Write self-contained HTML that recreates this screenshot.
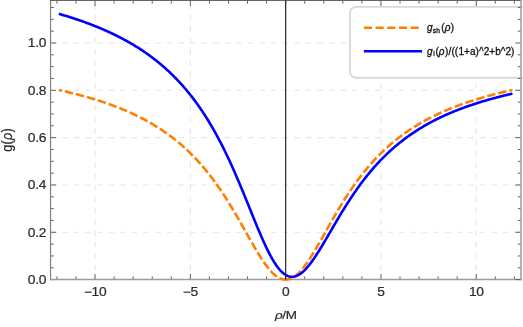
<!DOCTYPE html>
<html><head><meta charset="utf-8"><style>
html,body{margin:0;padding:0;background:#fff;}
svg{display:block;font-family:"Liberation Sans",sans-serif;will-change:transform;}
</style></head><body>
<svg width="523" height="327" viewBox="0 0 523 327">
<rect width="523" height="327" fill="#fff"/>
<g stroke="#e6e6e6" stroke-width="1.1" stroke-dasharray="5.7 5.9" fill="none">
<line x1="95.05" y1="0.45" x2="95.05" y2="279.6" stroke-dasharray="5.6 5.75" stroke-dashoffset="8.3"/>
<line x1="190.35" y1="0.45" x2="190.35" y2="279.6" stroke-dasharray="5.6 5.75" stroke-dashoffset="8.3"/>
<line x1="380.95" y1="0.45" x2="380.95" y2="279.6" stroke-dasharray="5.6 5.75" stroke-dashoffset="8.3"/>
<line x1="476.25" y1="0.45" x2="476.25" y2="279.6" stroke-dasharray="5.6 5.75" stroke-dashoffset="8.3"/>
<line x1="50.55" y1="232.28" x2="521.0" y2="232.28"/>
<line x1="50.55" y1="184.96" x2="521.0" y2="184.96"/>
<line x1="50.55" y1="137.64" x2="521.0" y2="137.64"/>
<line x1="50.55" y1="90.32" x2="521.0" y2="90.32"/>
<line x1="50.55" y1="43.00" x2="521.0" y2="43.00"/>
</g>
<g stroke="#626262" stroke-width="1" fill="none">
<line x1="56.93" y1="279.6" x2="56.93" y2="276.40"/><line x1="56.93" y1="0.45" x2="56.93" y2="3.65"/>
<line x1="75.99" y1="279.6" x2="75.99" y2="276.40"/><line x1="75.99" y1="0.45" x2="75.99" y2="3.65"/>
<line x1="95.05" y1="279.6" x2="95.05" y2="274.00"/><line x1="95.05" y1="0.45" x2="95.05" y2="6.05"/>
<line x1="114.11" y1="279.6" x2="114.11" y2="276.40"/><line x1="114.11" y1="0.45" x2="114.11" y2="3.65"/>
<line x1="133.17" y1="279.6" x2="133.17" y2="276.40"/><line x1="133.17" y1="0.45" x2="133.17" y2="3.65"/>
<line x1="152.23" y1="279.6" x2="152.23" y2="276.40"/><line x1="152.23" y1="0.45" x2="152.23" y2="3.65"/>
<line x1="171.29" y1="279.6" x2="171.29" y2="276.40"/><line x1="171.29" y1="0.45" x2="171.29" y2="3.65"/>
<line x1="190.35" y1="279.6" x2="190.35" y2="274.00"/><line x1="190.35" y1="0.45" x2="190.35" y2="6.05"/>
<line x1="209.41" y1="279.6" x2="209.41" y2="276.40"/><line x1="209.41" y1="0.45" x2="209.41" y2="3.65"/>
<line x1="228.47" y1="279.6" x2="228.47" y2="276.40"/><line x1="228.47" y1="0.45" x2="228.47" y2="3.65"/>
<line x1="247.53" y1="279.6" x2="247.53" y2="276.40"/><line x1="247.53" y1="0.45" x2="247.53" y2="3.65"/>
<line x1="266.59" y1="279.6" x2="266.59" y2="276.40"/><line x1="266.59" y1="0.45" x2="266.59" y2="3.65"/>
<line x1="285.65" y1="279.6" x2="285.65" y2="274.00"/><line x1="285.65" y1="0.45" x2="285.65" y2="6.05"/>
<line x1="304.71" y1="279.6" x2="304.71" y2="276.40"/><line x1="304.71" y1="0.45" x2="304.71" y2="3.65"/>
<line x1="323.77" y1="279.6" x2="323.77" y2="276.40"/><line x1="323.77" y1="0.45" x2="323.77" y2="3.65"/>
<line x1="342.83" y1="279.6" x2="342.83" y2="276.40"/><line x1="342.83" y1="0.45" x2="342.83" y2="3.65"/>
<line x1="361.89" y1="279.6" x2="361.89" y2="276.40"/><line x1="361.89" y1="0.45" x2="361.89" y2="3.65"/>
<line x1="380.95" y1="279.6" x2="380.95" y2="274.00"/><line x1="380.95" y1="0.45" x2="380.95" y2="6.05"/>
<line x1="400.01" y1="279.6" x2="400.01" y2="276.40"/><line x1="400.01" y1="0.45" x2="400.01" y2="3.65"/>
<line x1="419.07" y1="279.6" x2="419.07" y2="276.40"/><line x1="419.07" y1="0.45" x2="419.07" y2="3.65"/>
<line x1="438.13" y1="279.6" x2="438.13" y2="276.40"/><line x1="438.13" y1="0.45" x2="438.13" y2="3.65"/>
<line x1="457.19" y1="279.6" x2="457.19" y2="276.40"/><line x1="457.19" y1="0.45" x2="457.19" y2="3.65"/>
<line x1="476.25" y1="279.6" x2="476.25" y2="274.00"/><line x1="476.25" y1="0.45" x2="476.25" y2="6.05"/>
<line x1="495.31" y1="279.6" x2="495.31" y2="276.40"/><line x1="495.31" y1="0.45" x2="495.31" y2="3.65"/>
<line x1="514.37" y1="279.6" x2="514.37" y2="276.40"/><line x1="514.37" y1="0.45" x2="514.37" y2="3.65"/>
<line x1="50.55" y1="279.60" x2="56.15" y2="279.60"/>
<line x1="50.55" y1="267.77" x2="53.75" y2="267.77"/>
<line x1="50.55" y1="255.94" x2="53.75" y2="255.94"/>
<line x1="50.55" y1="244.11" x2="53.75" y2="244.11"/>
<line x1="50.55" y1="232.28" x2="56.15" y2="232.28"/>
<line x1="50.55" y1="220.45" x2="53.75" y2="220.45"/>
<line x1="50.55" y1="208.62" x2="53.75" y2="208.62"/>
<line x1="50.55" y1="196.79" x2="53.75" y2="196.79"/>
<line x1="50.55" y1="184.96" x2="56.15" y2="184.96"/>
<line x1="50.55" y1="173.13" x2="53.75" y2="173.13"/>
<line x1="50.55" y1="161.30" x2="53.75" y2="161.30"/>
<line x1="50.55" y1="149.47" x2="53.75" y2="149.47"/>
<line x1="50.55" y1="137.64" x2="56.15" y2="137.64"/>
<line x1="50.55" y1="125.81" x2="53.75" y2="125.81"/>
<line x1="50.55" y1="113.98" x2="53.75" y2="113.98"/>
<line x1="50.55" y1="102.15" x2="53.75" y2="102.15"/>
<line x1="50.55" y1="90.32" x2="56.15" y2="90.32"/>
<line x1="50.55" y1="78.49" x2="53.75" y2="78.49"/>
<line x1="50.55" y1="66.66" x2="53.75" y2="66.66"/>
<line x1="50.55" y1="54.83" x2="53.75" y2="54.83"/>
<line x1="50.55" y1="43.00" x2="56.15" y2="43.00"/>
<line x1="50.55" y1="31.17" x2="53.75" y2="31.17"/>
<line x1="50.55" y1="19.34" x2="53.75" y2="19.34"/>
<line x1="50.55" y1="7.51" x2="53.75" y2="7.51"/>
</g>
<line x1="50.55" y1="0" x2="50.55" y2="280.20000000000005" stroke="#858585" stroke-width="1.25"/>
<line x1="49.949999999999996" y1="0.45" x2="521.8" y2="0.45" stroke="#5c5c5c" stroke-width="1"/>
<line x1="49.949999999999996" y1="279.6" x2="521.8" y2="279.6" stroke="#9c9c9c" stroke-width="1.5"/>
<g fill="none" stroke-linejoin="round">
<path d="M285.65,279.60 L285.14,279.59 L284.63,279.56 L284.11,279.50 L283.60,279.43 L283.09,279.33 L282.58,279.22 L282.07,279.08 L281.55,278.92 L281.04,278.74 L280.53,278.54 L280.01,278.32 L279.50,278.07 L278.99,277.81 L278.47,277.53 L277.96,277.22 L277.44,276.90 L276.93,276.56 L276.41,276.19 L275.90,275.81 L275.38,275.41 L274.87,274.99 L274.35,274.55 L273.83,274.09 L273.31,273.61 L272.79,273.12 L272.27,272.60 L271.75,272.07 L271.23,271.52 L270.71,270.96 L270.19,270.38 L269.67,269.78 L269.14,269.16 L268.62,268.53 L268.10,267.88 L267.57,267.22 L267.04,266.54 L266.52,265.85 L265.99,265.14 L265.46,264.42 L264.93,263.68 L264.40,262.93 L263.87,262.17 L263.34,261.40 L262.80,260.61 L262.27,259.81 L261.73,259.00 L261.20,258.17 L260.66,257.34 L260.12,256.49 L259.58,255.64 L259.04,254.77 L258.50,253.89 L257.96,253.01 L257.41,252.11 L256.87,251.21 L256.32,250.30 L255.78,249.37 L255.23,248.45 L254.68,247.51 L254.13,246.57 L253.57,245.61 L253.02,244.66 L252.46,243.69 L251.91,242.72 L251.35,241.75 L250.79,240.77 L250.23,239.78 L249.67,238.79 L249.11,237.79 L248.54,236.79 L247.97,235.79 L247.41,234.78 L246.84,233.77 L246.27,232.76 L245.69,231.74 L245.12,230.72 L244.54,229.70 L243.97,228.68 L243.39,227.65 L242.81,226.62 L242.23,225.60 L241.64,224.57 L241.06,223.54 L240.47,222.51 L239.88,221.47 L239.29,220.44 L238.70,219.41 L238.11,218.38 L237.51,217.35 L236.91,216.32 L236.32,215.29 L235.71,214.26 L235.11,213.23 L234.51,212.20 L233.90,211.18 L233.29,210.16 L232.68,209.14 L232.07,208.12 L231.46,207.10 L230.84,206.08 L230.22,205.07 L229.61,204.06 L228.98,203.06 L228.36,202.05 L227.74,201.05 L227.11,200.05 L226.48,199.06 L225.85,198.07 L225.21,197.08 L224.58,196.10 L223.94,195.11 L223.30,194.14 L222.66,193.17 L222.02,192.20 L221.37,191.23 L220.72,190.27 L220.07,189.31 L219.42,188.36 L218.77,187.41 L218.11,186.47 L217.45,185.53 L216.79,184.60 L216.13,183.67 L215.46,182.74 L214.80,181.82 L214.13,180.91 L213.46,180.00 L212.78,179.09 L212.11,178.19 L211.43,177.29 L210.75,176.40 L210.07,175.52 L209.38,174.64 L208.69,173.76 L208.00,172.89 L207.31,172.02 L206.62,171.16 L205.92,170.31 L205.22,169.46 L204.52,168.62 L203.82,167.78 L203.11,166.94 L202.40,166.11 L201.69,165.29 L200.98,164.47 L200.26,163.66 L199.54,162.85 L198.82,162.05 L198.10,161.25 L197.38,160.46 L196.65,159.68 L195.92,158.90 L195.18,158.12 L194.45,157.35 L193.71,156.59 L192.97,155.83 L192.23,155.07 L191.48,154.32 L190.74,153.58 L189.99,152.84 L189.23,152.11 L188.48,151.38 L187.72,150.66 L186.96,149.94 L186.20,149.23 L185.43,148.52 L184.67,147.82 L183.90,147.12 L183.12,146.43 L182.35,145.75 L181.57,145.07 L180.79,144.39 L180.01,143.72 L179.22,143.05 L178.43,142.39 L177.64,141.73 L176.85,141.08 L176.05,140.44 L175.25,139.80 L174.45,139.16 L173.65,138.53 L172.84,137.90 L172.03,137.28 L171.22,136.66 L170.40,136.05 L169.58,135.44 L168.76,134.84 L167.94,134.24 L167.12,133.64 L166.29,133.05 L165.46,132.47 L164.62,131.89 L163.79,131.31 L162.95,130.74 L162.10,130.17 L161.26,129.61 L160.41,129.05 L159.56,128.50 L158.71,127.95 L157.85,127.41 L157.00,126.87 L156.13,126.33 L155.27,125.80 L154.40,125.27 L153.53,124.74 L152.66,124.22 L151.79,123.71 L150.91,123.20 L150.03,122.69 L149.15,122.19 L148.26,121.69 L147.37,121.19 L146.48,120.70 L145.58,120.21 L144.69,119.73 L143.79,119.25 L142.88,118.77 L141.98,118.30 L141.07,117.83 L140.16,117.36 L139.24,116.90 L138.32,116.44 L137.40,115.99 L136.48,115.54 L135.56,115.09 L134.63,114.65 L133.70,114.20 L132.76,113.77 L131.82,113.33 L130.88,112.90 L129.94,112.48 L128.99,112.05 L128.04,111.63 L127.09,111.22 L126.14,110.80 L125.18,110.39 L124.22,109.99 L123.26,109.58 L122.29,109.18 L121.32,108.79 L120.35,108.39 L119.37,108.00 L118.40,107.61 L117.41,107.23 L116.43,106.85 L115.44,106.47 L114.45,106.09 L113.46,105.72 L112.47,105.35 L111.47,104.98 L110.47,104.62 L109.46,104.25 L108.45,103.89 L107.44,103.54 L106.43,103.19 L105.41,102.83 L104.39,102.49 L103.37,102.14 L102.35,101.80 L101.32,101.46 L100.29,101.12 L99.25,100.79 L98.22,100.46 L97.17,100.13 L96.13,99.80 L95.09,99.47 L94.04,99.15 L92.98,98.83 L91.93,98.52 L90.87,98.20 L89.81,97.89 L88.74,97.58 L87.68,97.27 L86.61,96.97 L85.53,96.66 L84.46,96.36 L83.38,96.06 L82.30,95.77 L81.21,95.47 L80.12,95.18 L79.03,94.89 L77.94,94.61 L76.84,94.32 L75.74,94.04 L74.63,93.76 L73.53,93.48 L72.42,93.20 L71.31,92.93 L70.19,92.65 L69.07,92.38 L67.95,92.12 L66.82,91.85 L65.70,91.58 L64.56,91.32 L63.43,91.06 L62.29,90.80 L61.15,90.55 L60.01,90.29 L58.86,90.04" stroke="#ff7f00" stroke-width="2.6" stroke-dasharray="8.4 2.99" stroke-dashoffset="2.0"/>
<path d="M285.65,279.60 L286.16,279.59 L286.67,279.56 L287.19,279.50 L287.70,279.43 L288.21,279.33 L288.72,279.22 L289.23,279.08 L289.75,278.92 L290.26,278.74 L290.77,278.54 L291.29,278.32 L291.80,278.07 L292.31,277.81 L292.83,277.53 L293.34,277.22 L293.86,276.90 L294.37,276.56 L294.89,276.19 L295.40,275.81 L295.92,275.41 L296.43,274.99 L296.95,274.55 L297.47,274.09 L297.99,273.61 L298.51,273.12 L299.03,272.60 L299.55,272.07 L300.07,271.52 L300.59,270.96 L301.11,270.38 L301.63,269.78 L302.16,269.16 L302.68,268.53 L303.20,267.88 L303.73,267.22 L304.26,266.54 L304.78,265.85 L305.31,265.14 L305.84,264.42 L306.37,263.68 L306.90,262.93 L307.43,262.17 L307.96,261.40 L308.50,260.61 L309.03,259.81 L309.57,259.00 L310.10,258.17 L310.64,257.34 L311.18,256.49 L311.72,255.64 L312.26,254.77 L312.80,253.89 L313.34,253.01 L313.89,252.11 L314.43,251.21 L314.98,250.30 L315.52,249.37 L316.07,248.45 L316.62,247.51 L317.17,246.57 L317.73,245.61 L318.28,244.66 L318.84,243.69 L319.39,242.72 L319.95,241.75 L320.51,240.77 L321.07,239.78 L321.63,238.79 L322.19,237.79 L322.76,236.79 L323.33,235.79 L323.89,234.78 L324.46,233.77 L325.03,232.76 L325.61,231.74 L326.18,230.72 L326.76,229.70 L327.33,228.68 L327.91,227.65 L328.49,226.62 L329.07,225.60 L329.66,224.57 L330.24,223.54 L330.83,222.51 L331.42,221.47 L332.01,220.44 L332.60,219.41 L333.19,218.38 L333.79,217.35 L334.39,216.32 L334.98,215.29 L335.59,214.26 L336.19,213.23 L336.79,212.20 L337.40,211.18 L338.01,210.16 L338.62,209.14 L339.23,208.12 L339.84,207.10 L340.46,206.08 L341.08,205.07 L341.69,204.06 L342.32,203.06 L342.94,202.05 L343.56,201.05 L344.19,200.05 L344.82,199.06 L345.45,198.07 L346.09,197.08 L346.72,196.10 L347.36,195.11 L348.00,194.14 L348.64,193.17 L349.28,192.20 L349.93,191.23 L350.58,190.27 L351.23,189.31 L351.88,188.36 L352.53,187.41 L353.19,186.47 L353.85,185.53 L354.51,184.60 L355.17,183.67 L355.84,182.74 L356.50,181.82 L357.17,180.91 L357.84,180.00 L358.52,179.09 L359.19,178.19 L359.87,177.29 L360.55,176.40 L361.23,175.52 L361.92,174.64 L362.61,173.76 L363.30,172.89 L363.99,172.02 L364.68,171.16 L365.38,170.31 L366.08,169.46 L366.78,168.62 L367.48,167.78 L368.19,166.94 L368.90,166.11 L369.61,165.29 L370.32,164.47 L371.04,163.66 L371.76,162.85 L372.48,162.05 L373.20,161.25 L373.92,160.46 L374.65,159.68 L375.38,158.90 L376.12,158.12 L376.85,157.35 L377.59,156.59 L378.33,155.83 L379.07,155.07 L379.82,154.32 L380.56,153.58 L381.31,152.84 L382.07,152.11 L382.82,151.38 L383.58,150.66 L384.34,149.94 L385.10,149.23 L385.87,148.52 L386.63,147.82 L387.40,147.12 L388.18,146.43 L388.95,145.75 L389.73,145.07 L390.51,144.39 L391.29,143.72 L392.08,143.05 L392.87,142.39 L393.66,141.73 L394.45,141.08 L395.25,140.44 L396.05,139.80 L396.85,139.16 L397.65,138.53 L398.46,137.90 L399.27,137.28 L400.08,136.66 L400.90,136.05 L401.72,135.44 L402.54,134.84 L403.36,134.24 L404.18,133.64 L405.01,133.05 L405.84,132.47 L406.68,131.89 L407.51,131.31 L408.35,130.74 L409.20,130.17 L410.04,129.61 L410.89,129.05 L411.74,128.50 L412.59,127.95 L413.45,127.41 L414.30,126.87 L415.17,126.33 L416.03,125.80 L416.90,125.27 L417.77,124.74 L418.64,124.22 L419.51,123.71 L420.39,123.20 L421.27,122.69 L422.15,122.19 L423.04,121.69 L423.93,121.19 L424.82,120.70 L425.72,120.21 L426.61,119.73 L427.51,119.25 L428.42,118.77 L429.32,118.30 L430.23,117.83 L431.14,117.36 L432.06,116.90 L432.98,116.44 L433.90,115.99 L434.82,115.54 L435.74,115.09 L436.67,114.65 L437.60,114.20 L438.54,113.77 L439.48,113.33 L440.42,112.90 L441.36,112.48 L442.31,112.05 L443.26,111.63 L444.21,111.22 L445.16,110.80 L446.12,110.39 L447.08,109.99 L448.04,109.58 L449.01,109.18 L449.98,108.79 L450.95,108.39 L451.93,108.00 L452.90,107.61 L453.89,107.23 L454.87,106.85 L455.86,106.47 L456.85,106.09 L457.84,105.72 L458.83,105.35 L459.83,104.98 L460.83,104.62 L461.84,104.25 L462.85,103.89 L463.86,103.54 L464.87,103.19 L465.89,102.83 L466.91,102.49 L467.93,102.14 L468.95,101.80 L469.98,101.46 L471.01,101.12 L472.05,100.79 L473.08,100.46 L474.13,100.13 L475.17,99.80 L476.21,99.47 L477.26,99.15 L478.32,98.83 L479.37,98.52 L480.43,98.20 L481.49,97.89 L482.56,97.58 L483.62,97.27 L484.69,96.97 L485.77,96.66 L486.84,96.36 L487.92,96.06 L489.00,95.77 L490.09,95.47 L491.18,95.18 L492.27,94.89 L493.36,94.61 L494.46,94.32 L495.56,94.04 L496.67,93.76 L497.77,93.48 L498.88,93.20 L499.99,92.93 L501.11,92.65 L502.23,92.38 L503.35,92.12 L504.48,91.85 L505.60,91.58 L506.74,91.32 L507.87,91.06 L509.01,90.80 L510.15,90.55 L511.29,90.29 L512.44,90.04" stroke="#ff7f00" stroke-width="2.6" stroke-dasharray="8.4 2.99" stroke-dashoffset="2.0"/>
<path d="M58.86,13.85 L59.62,14.06 L60.38,14.28 L61.13,14.50 L61.89,14.72 L62.65,14.95 L63.41,15.17 L64.16,15.40 L64.92,15.63 L65.68,15.85 L66.43,16.09 L67.19,16.32 L67.95,16.55 L68.71,16.79 L69.46,17.02 L70.22,17.26 L70.98,17.50 L71.74,17.74 L72.49,17.99 L73.25,18.23 L74.01,18.48 L74.76,18.73 L75.52,18.98 L76.28,19.23 L77.04,19.48 L77.79,19.74 L78.55,20.00 L79.31,20.26 L80.06,20.52 L80.82,20.78 L81.58,21.04 L82.34,21.31 L83.09,21.58 L83.85,21.85 L84.61,22.12 L85.37,22.39 L86.12,22.67 L86.88,22.95 L87.64,23.23 L88.39,23.51 L89.15,23.80 L89.91,24.08 L90.67,24.37 L91.42,24.66 L92.18,24.95 L92.94,25.25 L93.69,25.54 L94.45,25.84 L95.21,26.15 L95.97,26.45 L96.72,26.75 L97.48,27.06 L98.24,27.37 L99.00,27.69 L99.75,28.00 L100.51,28.32 L101.27,28.64 L102.02,28.96 L102.78,29.29 L103.54,29.61 L104.30,29.94 L105.05,30.28 L105.81,30.61 L106.57,30.95 L107.32,31.29 L108.08,31.63 L108.84,31.98 L109.60,32.33 L110.35,32.68 L111.11,33.03 L111.87,33.39 L112.63,33.75 L113.38,34.11 L114.14,34.48 L114.90,34.85 L115.65,35.22 L116.41,35.60 L117.17,35.97 L117.93,36.35 L118.68,36.74 L119.44,37.12 L120.20,37.52 L120.95,37.91 L121.71,38.31 L122.47,38.71 L123.23,39.11 L123.98,39.52 L124.74,39.93 L125.50,40.34 L126.26,40.76 L127.01,41.18 L127.77,41.60 L128.53,42.03 L129.28,42.46 L130.04,42.90 L130.80,43.34 L131.56,43.78 L132.31,44.23 L133.07,44.68 L133.83,45.13 L134.58,45.59 L135.34,46.06 L136.10,46.52 L136.86,47.00 L137.61,47.47 L138.37,47.95 L139.13,48.43 L139.89,48.92 L140.64,49.42 L141.40,49.91 L142.16,50.41 L142.91,50.92 L143.67,51.43 L144.43,51.95 L145.19,52.47 L145.94,52.99 L146.70,53.52 L147.46,54.06 L148.21,54.60 L148.97,55.14 L149.73,55.69 L150.49,56.25 L151.24,56.81 L152.00,57.38 L152.76,57.95 L153.52,58.52 L154.27,59.11 L155.03,59.69 L155.79,60.29 L156.54,60.89 L157.30,61.49 L158.06,62.10 L158.82,62.72 L159.57,63.34 L160.33,63.97 L161.09,64.61 L161.84,65.25 L162.60,65.90 L163.36,66.55 L164.12,67.22 L164.87,67.88 L165.63,68.56 L166.39,69.24 L167.15,69.93 L167.90,70.62 L168.66,71.32 L169.42,72.03 L170.17,72.75 L170.93,73.47 L171.69,74.21 L172.45,74.94 L173.20,75.69 L173.96,76.45 L174.72,77.21 L175.47,77.98 L176.23,78.76 L176.99,79.54 L177.75,80.34 L178.50,81.14 L179.26,81.95 L180.02,82.77 L180.78,83.60 L181.53,84.44 L182.29,85.29 L183.05,86.14 L183.80,87.01 L184.56,87.88 L185.32,88.76 L186.08,89.66 L186.83,90.56 L187.59,91.47 L188.35,92.39 L189.10,93.33 L189.86,94.27 L190.62,95.22 L191.38,96.18 L192.13,97.16 L192.89,98.14 L193.65,99.14 L194.41,100.14 L195.16,101.16 L195.92,102.19 L196.68,103.23 L197.43,104.28 L198.19,105.34 L198.95,106.42 L199.71,107.50 L200.46,108.60 L201.22,109.71 L201.98,110.83 L202.73,111.97 L203.49,113.11 L204.25,114.27 L205.01,115.45 L205.76,116.63 L206.52,117.83 L207.28,119.04 L208.03,120.27 L208.79,121.50 L209.55,122.76 L210.31,124.02 L211.06,125.30 L211.82,126.59 L212.58,127.90 L213.34,129.22 L214.09,130.55 L214.85,131.90 L215.61,133.26 L216.36,134.64 L217.12,136.03 L217.88,137.44 L218.64,138.86 L219.39,140.29 L220.15,141.74 L220.91,143.20 L221.66,144.68 L222.42,146.18 L223.18,147.68 L223.94,149.20 L224.69,150.74 L225.45,152.29 L226.21,153.86 L226.97,155.44 L227.72,157.03 L228.48,158.64 L229.24,160.26 L229.99,161.90 L230.75,163.55 L231.51,165.21 L232.27,166.89 L233.02,168.58 L233.78,170.29 L234.54,172.00 L235.29,173.73 L236.05,175.47 L236.81,177.22 L237.57,178.99 L238.32,180.76 L239.08,182.55 L239.84,184.34 L240.60,186.15 L241.35,187.96 L242.11,189.79 L242.87,191.62 L243.62,193.46 L244.38,195.30 L245.14,197.16 L245.90,199.01 L246.65,200.87 L247.41,202.74 L248.17,204.61 L248.92,206.48 L249.68,208.35 L250.44,210.22 L251.20,212.09 L251.95,213.96 L252.71,215.83 L253.47,217.69 L254.23,219.55 L254.98,221.40 L255.74,223.25 L256.50,225.08 L257.25,226.91 L258.01,228.72 L258.77,230.52 L259.53,232.31 L260.28,234.08 L261.04,235.84 L261.80,237.57 L262.55,239.29 L263.31,240.99 L264.07,242.66 L264.83,244.31 L265.58,245.93 L266.34,247.53 L267.10,249.10 L267.86,250.63 L268.61,252.14 L269.37,253.61 L270.13,255.05 L270.88,256.46 L271.64,257.82 L272.40,259.15 L273.16,260.43 L273.91,261.68 L274.67,262.88 L275.43,264.04 L276.18,265.15 L276.94,266.22 L277.70,267.24 L278.46,268.21 L279.21,269.14 L279.97,270.01 L280.73,270.83 L281.49,271.61 L282.24,272.33 L283.00,272.99 L283.76,273.61 L284.51,274.17 L285.27,274.67 L286.03,275.13 L286.79,275.53 L287.54,275.87 L288.30,276.16 L289.06,276.40 L289.81,276.58 L290.57,276.71 L291.33,276.79 L292.09,276.81 L292.84,276.78 L293.60,276.70 L294.36,276.56 L295.12,276.38 L295.87,276.15 L296.63,275.87 L297.39,275.54 L298.14,275.16 L298.90,274.74 L299.66,274.27 L300.42,273.76 L301.17,273.20 L301.93,272.61 L302.69,271.97 L303.44,271.29 L304.20,270.58 L304.96,269.83 L305.72,269.04 L306.47,268.22 L307.23,267.36 L307.99,266.48 L308.75,265.56 L309.50,264.61 L310.26,263.64 L311.02,262.64 L311.77,261.61 L312.53,260.56 L313.29,259.49 L314.05,258.39 L314.80,257.28 L315.56,256.15 L316.32,254.99 L317.07,253.83 L317.83,252.64 L318.59,251.44 L319.35,250.23 L320.10,249.01 L320.86,247.77 L321.62,246.53 L322.38,245.27 L323.13,244.01 L323.89,242.74 L324.65,241.46 L325.40,240.18 L326.16,238.89 L326.92,237.60 L327.68,236.31 L328.43,235.01 L329.19,233.71 L329.95,232.41 L330.70,231.11 L331.46,229.81 L332.22,228.51 L332.98,227.22 L333.73,225.92 L334.49,224.63 L335.25,223.34 L336.01,222.06 L336.76,220.77 L337.52,219.50 L338.28,218.22 L339.03,216.96 L339.79,215.70 L340.55,214.44 L341.31,213.19 L342.06,211.95 L342.82,210.71 L343.58,209.48 L344.33,208.26 L345.09,207.05 L345.85,205.84 L346.61,204.65 L347.36,203.46 L348.12,202.27 L348.88,201.10 L349.64,199.94 L350.39,198.78 L351.15,197.63 L351.91,196.50 L352.66,195.37 L353.42,194.25 L354.18,193.14 L354.94,192.04 L355.69,190.95 L356.45,189.86 L357.21,188.79 L357.96,187.73 L358.72,186.68 L359.48,185.63 L360.24,184.60 L360.99,183.57 L361.75,182.56 L362.51,181.55 L363.27,180.55 L364.02,179.57 L364.78,178.59 L365.54,177.62 L366.29,176.66 L367.05,175.71 L367.81,174.77 L368.57,173.84 L369.32,172.92 L370.08,172.00 L370.84,171.10 L371.59,170.21 L372.35,169.32 L373.11,168.44 L373.87,167.58 L374.62,166.72 L375.38,165.87 L376.14,165.02 L376.89,164.19 L377.65,163.37 L378.41,162.55 L379.17,161.74 L379.92,160.94 L380.68,160.15 L381.44,159.37 L382.20,158.59 L382.95,157.83 L383.71,157.07 L384.47,156.32 L385.22,155.57 L385.98,154.84 L386.74,154.11 L387.50,153.39 L388.25,152.67 L389.01,151.97 L389.77,151.27 L390.52,150.58 L391.28,149.89 L392.04,149.22 L392.80,148.55 L393.55,147.88 L394.31,147.23 L395.07,146.58 L395.83,145.93 L396.58,145.30 L397.34,144.67 L398.10,144.04 L398.85,143.42 L399.61,142.81 L400.37,142.21 L401.13,141.61 L401.88,141.02 L402.64,140.43 L403.40,139.85 L404.15,139.28 L404.91,138.71 L405.67,138.14 L406.43,137.59 L407.18,137.04 L407.94,136.49 L408.70,135.95 L409.46,135.41 L410.21,134.88 L410.97,134.36 L411.73,133.84 L412.48,133.32 L413.24,132.81 L414.00,132.31 L414.76,131.81 L415.51,131.32 L416.27,130.83 L417.03,130.34 L417.78,129.86 L418.54,129.39 L419.30,128.92 L420.06,128.45 L420.81,127.99 L421.57,127.53 L422.33,127.08 L423.09,126.63 L423.84,126.18 L424.60,125.74 L425.36,125.31 L426.11,124.88 L426.87,124.45 L427.63,124.02 L428.39,123.60 L429.14,123.19 L429.90,122.78 L430.66,122.37 L431.41,121.96 L432.17,121.56 L432.93,121.17 L433.69,120.77 L434.44,120.38 L435.20,120.00 L435.96,119.62 L436.72,119.24 L437.47,118.86 L438.23,118.49 L438.99,118.12 L439.74,117.76 L440.50,117.39 L441.26,117.03 L442.02,116.68 L442.77,116.33 L443.53,115.98 L444.29,115.63 L445.04,115.29 L445.80,114.95 L446.56,114.61 L447.32,114.28 L448.07,113.94 L448.83,113.62 L449.59,113.29 L450.35,112.97 L451.10,112.65 L451.86,112.33 L452.62,112.01 L453.37,111.70 L454.13,111.39 L454.89,111.09 L455.65,110.78 L456.40,110.48 L457.16,110.18 L457.92,109.89 L458.67,109.59 L459.43,109.30 L460.19,109.01 L460.95,108.73 L461.70,108.44 L462.46,108.16 L463.22,107.88 L463.98,107.60 L464.73,107.33 L465.49,107.05 L466.25,106.78 L467.00,106.52 L467.76,106.25 L468.52,105.99 L469.28,105.72 L470.03,105.46 L470.79,105.21 L471.55,104.95 L472.30,104.70 L473.06,104.44 L473.82,104.19 L474.58,103.95 L475.33,103.70 L476.09,103.46 L476.85,103.21 L477.61,102.97 L478.36,102.74 L479.12,102.50 L479.88,102.27 L480.63,102.03 L481.39,101.80 L482.15,101.57 L482.91,101.34 L483.66,101.12 L484.42,100.89 L485.18,100.67 L485.93,100.45 L486.69,100.23 L487.45,100.01 L488.21,99.80 L488.96,99.58 L489.72,99.37 L490.48,99.16 L491.24,98.95 L491.99,98.74 L492.75,98.54 L493.51,98.33 L494.26,98.13 L495.02,97.93 L495.78,97.73 L496.54,97.53 L497.29,97.33 L498.05,97.13 L498.81,96.94 L499.56,96.74 L500.32,96.55 L501.08,96.36 L501.84,96.17 L502.59,95.98 L503.35,95.80 L504.11,95.61 L504.87,95.43 L505.62,95.24 L506.38,95.06 L507.14,94.88 L507.89,94.70 L508.65,94.53 L509.41,94.35 L510.17,94.17 L510.92,94.00 L511.68,93.83 L512.44,93.65" stroke="#0000ff" stroke-width="2.6"/>
</g>
<line x1="285.65" y1="0.45" x2="285.65" y2="279.6" stroke="#262626" stroke-width="1.2"/>
<rect x="350.0" y="6.9" width="190" height="70.9" rx="6.2" ry="6.2" fill="#fff" stroke="#d9d9d9" stroke-width="1.9"/>
<line x1="363.9" y1="27.8" x2="418.8" y2="27.8" stroke="#ff7f00" stroke-width="2.6" stroke-dasharray="8.1 3.6"/>
<line x1="363.9" y1="51.2" x2="422.1" y2="51.2" stroke="#0000ff" stroke-width="2.6"/>
<g fill="#111" stroke="#111" stroke-width="0.3" font-size="10" letter-spacing="0.03">
<text transform="translate(427.0,31.1) scale(1.002,1)"><tspan font-style="italic">g</tspan><tspan font-size="6.6" dy="1.7" dx="0.25">sh</tspan><tspan dy="-1.7" dx="1.4">(</tspan><tspan font-style="italic">ρ</tspan><tspan dx="0.2">)</tspan></text>
<text transform="translate(427.1,54.6) scale(1.002,1)"><tspan font-style="italic">g</tspan><tspan font-size="6.6" dy="1.7" dx="0.45">l</tspan><tspan dy="-1.7" dx="0.8">(</tspan><tspan font-style="italic">ρ</tspan><tspan dx="0.3">)</tspan><tspan dx="0.3">/((</tspan><tspan dx="0.4">1+a)^2+b^2)</tspan></text>
</g>
<g stroke="#626262" stroke-width="1" fill="none">
<line x1="521.0" y1="279.60" x2="515.40" y2="279.60"/>
<line x1="521.0" y1="267.77" x2="517.80" y2="267.77"/>
<line x1="521.0" y1="255.94" x2="517.80" y2="255.94"/>
<line x1="521.0" y1="244.11" x2="517.80" y2="244.11"/>
<line x1="521.0" y1="232.28" x2="515.40" y2="232.28"/>
<line x1="521.0" y1="220.45" x2="517.80" y2="220.45"/>
<line x1="521.0" y1="208.62" x2="517.80" y2="208.62"/>
<line x1="521.0" y1="196.79" x2="517.80" y2="196.79"/>
<line x1="521.0" y1="184.96" x2="515.40" y2="184.96"/>
<line x1="521.0" y1="173.13" x2="517.80" y2="173.13"/>
<line x1="521.0" y1="161.30" x2="517.80" y2="161.30"/>
<line x1="521.0" y1="149.47" x2="517.80" y2="149.47"/>
<line x1="521.0" y1="137.64" x2="515.40" y2="137.64"/>
<line x1="521.0" y1="125.81" x2="517.80" y2="125.81"/>
<line x1="521.0" y1="113.98" x2="517.80" y2="113.98"/>
<line x1="521.0" y1="102.15" x2="517.80" y2="102.15"/>
<line x1="521.0" y1="90.32" x2="515.40" y2="90.32"/>
<line x1="521.0" y1="78.49" x2="517.80" y2="78.49"/>
<line x1="521.0" y1="66.66" x2="517.80" y2="66.66"/>
<line x1="521.0" y1="54.83" x2="517.80" y2="54.83"/>
<line x1="521.0" y1="43.00" x2="515.40" y2="43.00"/>
<line x1="521.0" y1="31.17" x2="517.80" y2="31.17"/>
<line x1="521.0" y1="19.34" x2="517.80" y2="19.34"/>
<line x1="521.0" y1="7.51" x2="517.80" y2="7.51"/>
</g>
<line x1="521.0" y1="0" x2="521.0" y2="280.20000000000005" stroke="#a2a2a2" stroke-width="1.6"/>
<g fill="#2b2b2b" stroke="#2b2b2b" stroke-width="0.2" font-size="12" letter-spacing="-0.3">
<text transform="translate(95.05,295.8) scale(1.15,1)" text-anchor="middle">−10</text>
<text transform="translate(190.35,295.8) scale(1.15,1)" text-anchor="middle">−5</text>
<text transform="translate(285.65,295.8) scale(1.15,1)" text-anchor="middle">0</text>
<text transform="translate(380.95,295.8) scale(1.15,1)" text-anchor="middle">5</text>
<text transform="translate(476.25,295.8) scale(1.15,1)" text-anchor="middle">10</text>
<text transform="translate(46.0,283.90) scale(1.15,1)" text-anchor="end">0.0</text>
<text transform="translate(46.0,236.58) scale(1.15,1)" text-anchor="end">0.2</text>
<text transform="translate(46.0,189.26) scale(1.15,1)" text-anchor="end">0.4</text>
<text transform="translate(46.0,141.94) scale(1.15,1)" text-anchor="end">0.6</text>
<text transform="translate(46.0,94.62) scale(1.15,1)" text-anchor="end">0.8</text>
<text transform="translate(46.0,47.30) scale(1.15,1)" text-anchor="end">1.0</text>
<text transform="translate(285.7,319.1) scale(1.16,1)" font-size="11.6" text-anchor="middle"><tspan font-style="italic">ρ</tspan>/M</text>
<text transform="translate(12.4,139.9) rotate(-90) scale(0.9,1)" font-size="14" letter-spacing="0.25" text-anchor="middle">g(<tspan font-style="italic">ρ</tspan>)</text>
</g>
</svg>
</body></html>
